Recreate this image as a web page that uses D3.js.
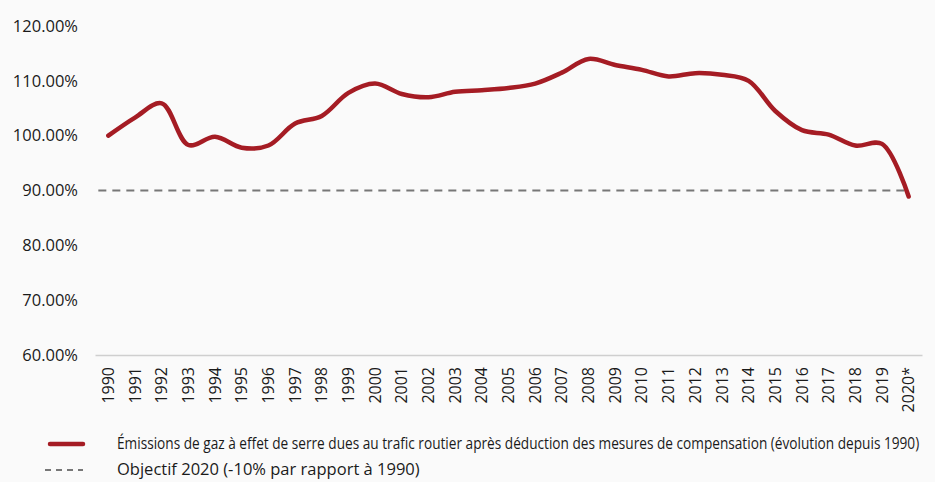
<!DOCTYPE html>
<html><head><meta charset="utf-8">
<script src="https://cdn.jsdelivr.net/npm/d3@7"></script>
<style>body{margin:0;background:#fafafa;}svg{display:block;}</style>
</head><body>
<script>
const years = ["1990","1991","1992","1993","1994","1995","1996","1997","1998","1999","2000","2001","2002","2003","2004","2005","2006","2007","2008","2009","2010","2011","2012","2013","2014","2015","2016","2017","2018","2019","2020*"];
const emissions = [100.0,103.3,105.9,98.3,99.8,97.8,98.2,102.2,103.6,107.8,109.5,107.6,107.0,108.0,108.3,108.7,109.5,111.5,114.0,112.9,112.0,110.8,111.4,111.1,110.0,104.5,101.0,100.2,98.2,98.5,88.9];
const target = 90;
const yTicks = [60,70,80,90,100,110,120];
const legendLabels = ["Émissions de gaz à effet de serre dues au trafic routier après déduction des mesures de compensation (évolution depuis 1990)","Objectif 2020 (-10% par rapport à 1990)"];

const W=935,H=482;
const svg=d3.select("body").append("svg").attr("width",W).attr("height",H);
svg.append("rect").attr("width",W).attr("height",H).attr("fill","#fafafa");

const x=d3.scaleBand().domain(years).range([95,922]);
const y=d3.scaleLinear().domain([60,120]).range([355,26]);

// y labels
const yAx=svg.append("g").attr("transform","translate(95,0)")
  .call(d3.axisLeft(y).tickValues(yTicks).tickSize(0).tickPadding(17).tickFormat(d=>d.toFixed(2)+"%"));
yAx.select(".domain").remove();
yAx.selectAll("text").attr("font-family","Open Sans, sans-serif").attr("font-size","16.5px").attr("fill","#1a1a1a");

// x axis
const xAx=svg.append("g").attr("transform","translate(0,355)")
  .call(d3.axisBottom(x).tickSize(0).tickPadding(0));
xAx.select(".domain").attr("stroke","#cfcfcf").attr("stroke-width",1.5);
xAx.selectAll(".tick text").attr("font-family","Open Sans, sans-serif").attr("font-size","16px").attr("fill","#1a1a1a")
  .attr("transform","rotate(-90)").attr("text-anchor","end").attr("dx","-12px").attr("dy","0.35em").attr("x",0).attr("y",0);

// target line
svg.append("line").attr("x1",x(years[0])+x.bandwidth()/2-10).attr("x2",x(years[years.length-1])+x.bandwidth()/2)
  .attr("y1",y(target)).attr("y2",y(target)).attr("stroke","#777").attr("stroke-width",2).attr("stroke-dasharray","8,6");

// emission line
const line=d3.line().x((d,i)=>x(years[i])+x.bandwidth()/2).y(d=>y(d)).curve(d3.curveCatmullRom.alpha(0.5));
svg.append("path").datum(emissions).attr("d",line).attr("fill","none").attr("stroke","#a51c24").attr("stroke-width",4.5).attr("stroke-linecap","round");

// legend
const lg=svg.append("g");
lg.append("line").attr("x1",50).attr("x2",83).attr("y1",444).attr("y2",444).attr("stroke","#a51c24").attr("stroke-width",4.5).attr("stroke-linecap","round");
lg.append("line").attr("x1",45).attr("x2",83).attr("y1",470).attr("y2",470).attr("stroke","#777").attr("stroke-width",2).attr("stroke-dasharray","6,5");
const targetsW=[803,303];
[449,475].forEach((yy,i)=>{
  const g=lg.append("g").attr("transform",`translate(117,${yy})`);
  const t=g.append("text").attr("x",0).attr("y",0).text(legendLabels[i]).attr("font-family","Open Sans, sans-serif").attr("font-size","16px").attr("fill","#1a1a1a");
  const w=t.node().getComputedTextLength();
  g.attr("transform",`translate(117,${yy}) scale(${targetsW[i]/w},1)`);
});
</script>
</body></html>
